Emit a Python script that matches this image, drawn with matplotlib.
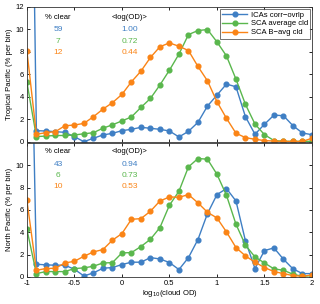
import numpy as np
import matplotlib
matplotlib.use("Agg")
import matplotlib.pyplot as plt

plt.rcParams["font.family"] = ["Liberation Sans", "DejaVu Sans"]
plt.rcParams["font.size"] = 5.5

# log10(cloud OD) bins; first bin (-1) holds the clear fraction
x = [-1.0, -0.9, -0.8, -0.7, -0.6, -0.5, -0.4, -0.3, -0.2, -0.1, 0.0,
     0.1, 0.2, 0.3, 0.4, 0.5, 0.6, 0.7, 0.8, 0.9, 1.0,
     1.1, 1.2, 1.3, 1.4, 1.5, 1.6, 1.7, 1.8, 1.9, 2.0]

# Tropical Pacific
trop_ica = [59, 0.98, 0.95, 0.89, 0.83, 0.44, 0.0, 0.3, 0.6, 0.74, 0.98,
            1.1, 1.28, 1.19, 1.1, 0.95, 0.42, 0.92, 1.72, 3.17, 4.15,
            5.13, 4.89, 2.22, 0.66, 1.55, 2.37, 2.31, 1.42, 0.77, 0.62]
trop_avg = [5.3, 0.45, 0.5, 0.55, 0.55, 0.6, 0.7, 0.8, 1.2, 1.5, 1.85,
            2.2, 3.05, 3.85, 5.05, 6.37, 7.8, 9.54, 9.9, 9.99, 8.89,
            7.64, 5.57, 3.32, 1.57, 0.62, 0.1, 0.03, 0.02, 0.02, 0.03]
trop_bavg = [8.1, 0.66, 0.8, 0.89, 1.42, 1.48, 1.63, 2.22, 2.9, 3.47, 4.21,
             5.33, 6.28, 7.5, 8.46, 8.8, 8.5, 8.12, 6.7, 5.42, 3.56,
             2.08, 0.75, 0.36, 0.21, 0.1, 0.05, 0.03, 0.02, 0.03, 0.3]

# North Pacific
np_ica = [43, 1.14, 1.08, 1.05, 1.05, 0.69, 0.09, 0.36, 0.78, 0.84, 1.11,
          1.32, 1.32, 1.73, 1.61, 1.29, 0.66, 1.73, 3.35, 5.67, 7.37,
          7.91, 6.8, 3.22, 0.75, 2.36, 2.6, 1.58, 0.72, 0.3, 0.3]
np_avg = [4.27, 0.3, 0.48, 0.48, 0.48, 0.75, 0.81, 0.96, 1.25, 1.28, 2.15,
          2.18, 2.72, 3.37, 4.42, 6.42, 7.67, 9.85, 10.6, 10.54, 9.19,
          7.31, 4.72, 2.84, 1.79, 1.25, 0.72, 0.6, 0.24, 0.06, 0.12]
np_bavg = [6.87, 0.6, 0.75, 0.78, 1.25, 1.4, 1.85, 2.24, 2.45, 3.29, 3.88,
           5.16, 5.22, 5.88, 6.8, 7.16, 7.13, 7.37, 6.63, 5.79, 5.28,
           4.03, 2.63, 1.88, 1.32, 0.84, 0.48, 0.3, 0.12, 0.06, 0.18]

labels = ["ICAs corr\u2212ovrlp", "SCA average cld", "SCA B\u2212avg cld"]
colors = ["#3f7fc4", "#5ab74d", "#fa8416"]

clear_top = ["59", "7", "12"]
logod_top = ["1.00", "0.72", "0.44"]
clear_bot = ["43", "6", "10"]
logod_bot = ["0.94", "0.73", "0.53"]

fig = plt.figure(figsize=(3.2, 3.04), dpi=100)
ax1 = fig.add_axes([0.084, 0.534, 0.891, 0.443])
ax2 = fig.add_axes([0.084, 0.089, 0.891, 0.441])


def panel(ax, series, clear, logod, ylab, rows_y):
    for s, c, lab in zip(series, colors, labels):
        ax.plot(x, s, color=c, lw=1.0, marker="o", ms=3.4, mec=c, mfc=c, label=lab)
    ax.set_xlim(-1, 2)
    ax.set_ylim(0, 12)
    ax.set_yticks(range(0, 13, 2))
    ax.set_xticks([-1, -0.5, 0, 0.5, 1, 1.5, 2])
    ax.tick_params(direction="in", top=True, right=True, length=2.5, width=0.6, pad=2)
    for sp in ax.spines.values():
        sp.set_linewidth(0.6)
        sp.set_color("#333333")
    ax.set_ylabel(ylab, labelpad=2)
    ax.text(0.109, rows_y[0], "% clear", transform=ax.transAxes, ha="center", va="center")
    ax.text(0.361, rows_y[0], "<log(OD)>", transform=ax.transAxes, ha="center", va="center")
    for i in range(3):
        ax.text(0.109, rows_y[i + 1], clear[i], color=colors[i], transform=ax.transAxes,
                ha="center", va="center", fontsize=6)
        ax.text(0.361, rows_y[i + 1], logod[i], color=colors[i], transform=ax.transAxes,
                ha="center", va="center", fontsize=6)


panel(ax1, [trop_ica, trop_avg, trop_bavg], clear_top, logod_top,
      "Tropical Pacific (% per bin)", [0.924, 0.835, 0.746, 0.664])
panel(ax2, [np_ica, np_avg, np_bavg], clear_bot, logod_bot,
      "North Pacific (% per bin)", [0.933, 0.836, 0.754, 0.672])

ax1.set_xticklabels([])
ax2.set_xticklabels(["-1", "-0.5", "0", "0.5", "1", "1.5", "2"])
ax2.set_yticks(range(0, 11, 2))
ax2.set_xlabel("log$_{10}$(cloud OD)", labelpad=1)

leg = ax1.legend(loc="upper right", fontsize=5.5, frameon=True, fancybox=False,
                 borderpad=0.3, labelspacing=0.2, handlelength=3.2, handletextpad=0.5,
                 borderaxespad=0.25)
leg.get_frame().set_edgecolor("#333333")
leg.get_frame().set_linewidth(0.6)

fig.savefig("out.png", dpi=100)
